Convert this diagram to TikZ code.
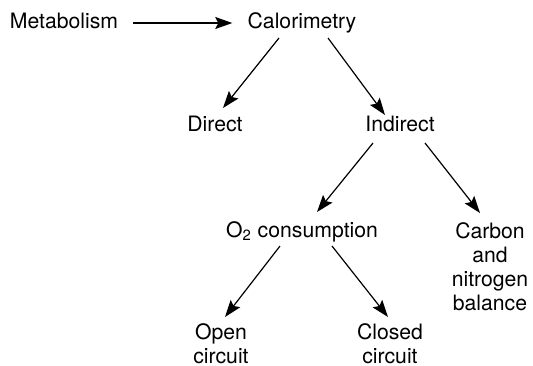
\documentclass[tikz,border=0pt]{standalone}
\usepackage{fontspec}
\setmainfont{TeX Gyre Heros}
\usetikzlibrary{arrows.meta,calc}
\tikzset{
  lbl/.style={inner sep=0pt, anchor=base, font=\fontsize{10.6}{12}\selectfont},
  stack/.style={lbl, anchor=north, align=center},
  flow/.style={-{Stealth[length=8.5pt, width=6pt, inset=1.5pt]}, line width=0.6pt},
}

\begin{document}
\begin{tikzpicture}[x=0.5pt, y=-0.5pt]
  \useasboundingbox (0,0) rectangle (533,365);
  % top row
  \node[lbl] (met) at (64,28) {Metabolism};
  \node[lbl] (cal) at (302,28) {Calorimetry};
  % second row
  \node[lbl] (dir) at (215,131) {Direct};
  \node[lbl] (ind) at (400,131) {Indirect};
  % third row
  \node[lbl] (otwo) at (302,237) {O\textsubscript{2} consumption};
  \node[stack] (cnb) at (490,222) {Carbon\\and\\nitrogen\\balance};
  % bottom row
  \node[stack] (open) at (221,323) {Open\\circuit};
  \node[stack] (closed) at (390,323) {Closed\\circuit};

  \draw[flow] ($(met.base east)+(15,-5)$) -- ($(cal.base west)+(-15,-5)$);
  \draw[flow] ($(cal.base)+(-23,10)$) -- ($(dir.base)+(8,-23)$);
  \draw[flow] ($(cal.base)+(26,10)$) -- ($(ind.base)+(-15,-16)$);
  \draw[flow] ($(ind.base)+(-27,12)$) -- ($(otwo.base)+(15,-25)$);
  \draw[flow] ($(ind.base)+(25,12)$) -- ($(cnb.north)+(-10,-9)$);
  \draw[flow] ($(otwo.base)+(-22,9)$) -- ($(open.north)+(4,-6)$);
  \draw[flow] ($(otwo.base)+(30,9)$) -- ($(closed.north)+(-2,-6)$);
\end{tikzpicture}
\end{document}
